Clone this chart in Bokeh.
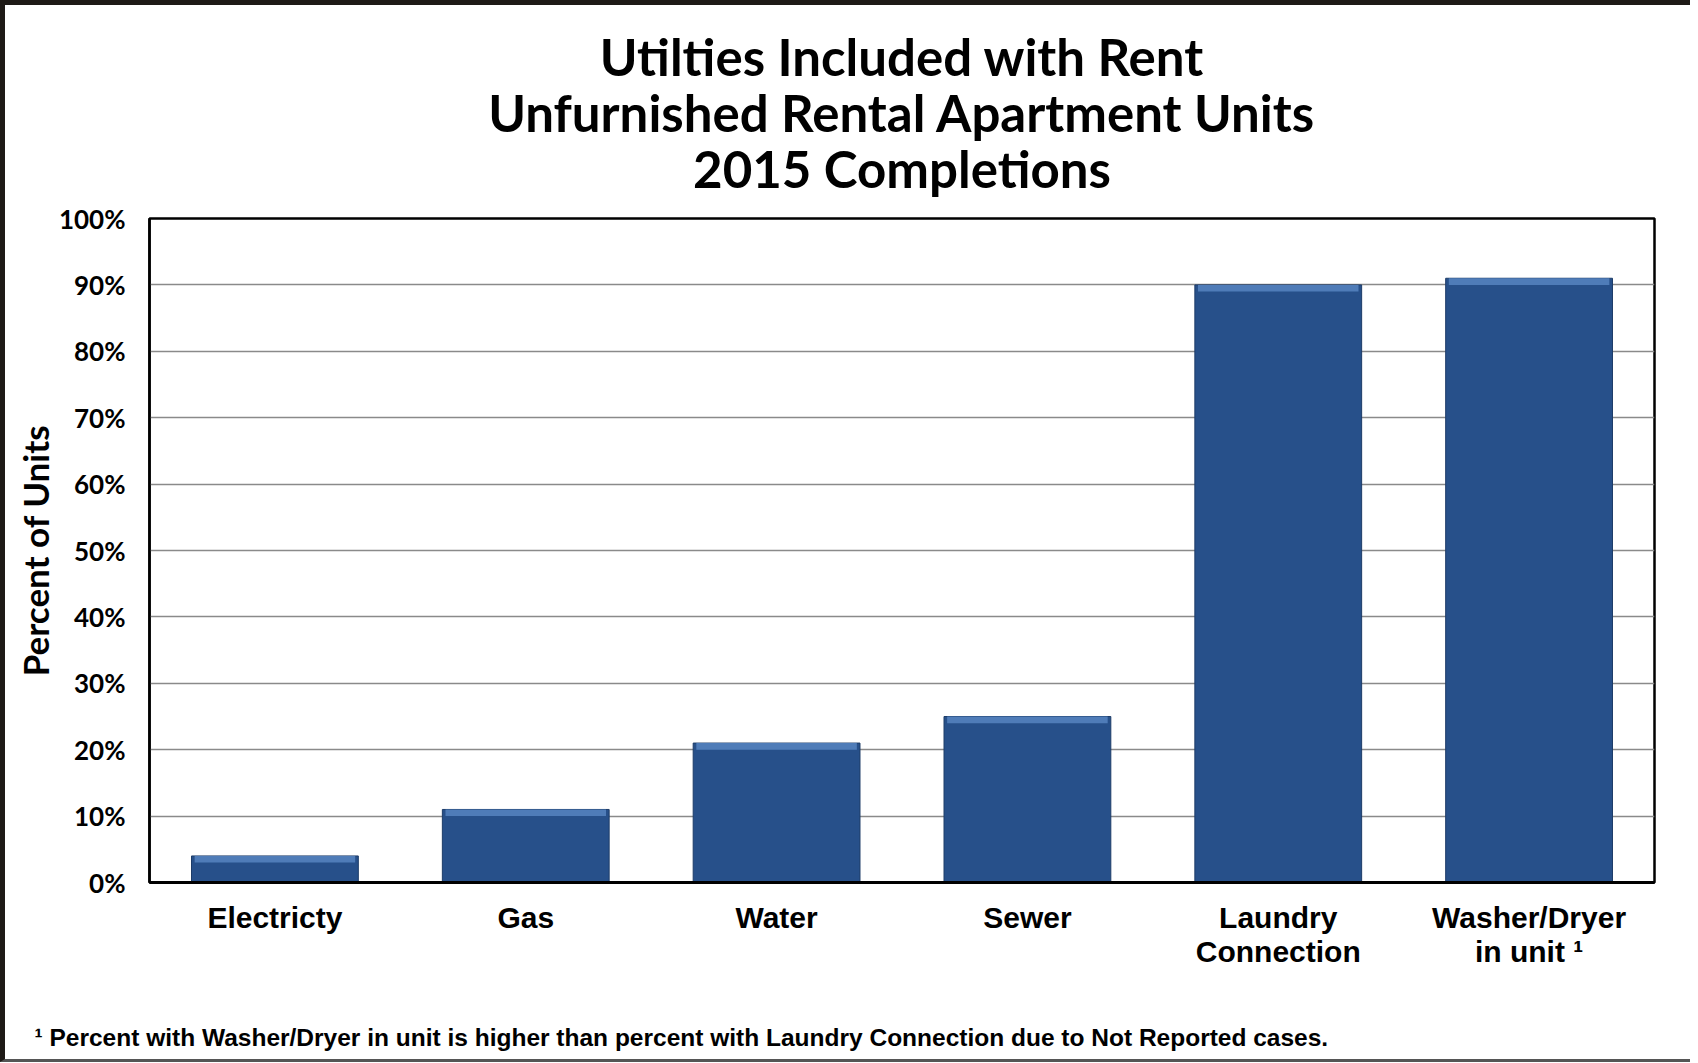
from bokeh.plotting import figure
from bokeh.models import Title, FixedTicker, PrintfTickFormatter, ColumnDataSource
from bokeh.embed import file_html
from bokeh.resources import INLINE

categories = ["Electricty", "Gas", "Water", "Sewer", "Laundry\nConnection", "Washer/Dryer\nin unit \u00b9"]
percents = [4, 11, 21, 25, 90, 91]
y_ticks = [0, 10, 20, 30, 40, 50, 60, 70, 80, 90, 100]

title_lines = ["Utilties Included with Rent", "Unfurnished Rental Apartment Units", "2015 Completions"]
footnote = "\u00b9 Percent with Washer/Dryer in unit is higher than percent with Laundry Connection due to Not Reported cases."

bevel = [max(v - 1.0, 0) for v in percents]
src = ColumnDataSource(dict(cat=categories, val=percents, bev=bevel))

p = figure(x_range=categories, y_range=(0, 100), width=1690, height=1062,
           output_backend="svg", toolbar_location=None,
           min_border_left=144, min_border_right=41, min_border_top=213, min_border_bottom=185)

p.styles = {"border-left": "5px solid #1e1a16", "border-top": "5px solid #1e1a16",
            "border-bottom": "3px solid #555555"}

p.vbar(x="cat", top="val", width=0.665, source=src, fill_color="#27508a",
       line_color="#1d3c68", line_width=1)
p.vbar(x="cat", top="val", bottom="bev", width=0.64, source=src, fill_color="#4f7cb8",
       line_color=None)

p.outline_line_color = "black"
p.outline_line_width = 2.5

p.xgrid.grid_line_color = None
p.ygrid.ticker = FixedTicker(ticks=y_ticks)
p.ygrid.grid_line_color = "#8a8a8a"
p.ygrid.grid_line_width = 1.5

p.yaxis.ticker = FixedTicker(ticks=y_ticks)
p.yaxis.formatter = PrintfTickFormatter(format="%d%%")
p.yaxis.major_label_text_font = "Lato"
p.yaxis.major_label_text_font_style = "bold"
p.yaxis.major_label_text_font_size = "26px"
p.yaxis.major_label_text_color = "black"
p.yaxis.major_label_standoff = 18
p.yaxis.major_tick_line_color = None
p.yaxis.minor_tick_line_color = None
p.yaxis.axis_line_color = "black"
p.yaxis.axis_line_width = 2.5
p.yaxis.axis_label = "Percent of Units"
p.yaxis.axis_label_text_font = "Lato"
p.yaxis.axis_label_text_font_style = "bold"
p.yaxis.axis_label_text_font_size = "35px"
p.yaxis.axis_label_text_color = "black"
p.yaxis.axis_label_standoff = 0

p.xaxis.major_label_text_font = "Liberation Sans"
p.xaxis.major_label_text_font_style = "bold"
p.xaxis.major_label_text_font_size = "30px"
p.xaxis.major_label_text_line_height = 1.05
p.xaxis.major_label_text_color = "black"
p.xaxis.major_label_standoff = 12
p.xaxis.major_tick_line_color = None
p.xaxis.axis_line_color = "black"
p.xaxis.axis_line_width = 3

# spacer between the frame and the title block
p.add_layout(Title(text=" ", text_font_size="1px", standoff=20), "above")
# title lines, added from the one nearest the plot outward
for t in reversed(title_lines):
    p.add_layout(Title(text=t, align="center", standoff=-7,
                       text_font="Lato", text_font_style="bold",
                       text_font_size="51px", text_color="black"), "above")

# spacer between the category labels and the footnote
p.add_layout(Title(text=" ", text_font_size="1px", standoff=41), "below")
p.add_layout(Title(text=footnote, align="left", offset=-115, standoff=12,
                   text_font="Liberation Sans", text_font_style="bold",
                   text_font_size="24.5px", text_color="black"), "below")

open("out.html", "w").write(file_html(p, INLINE))
